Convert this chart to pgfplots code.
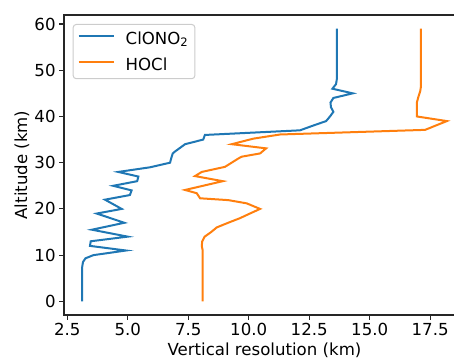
\documentclass[border=0pt]{standalone}
\usepackage{fontspec}
\setmainfont{DejaVu Sans}
\usepackage{pgfplots}
\pgfplotsset{compat=1.18}
\definecolor{tabblue}{HTML}{1F77B4}
\definecolor{taborange}{HTML}{FF7F0E}
\newcommand{\mplfont}{\fontsize{16.6bp}{20bp}\selectfont}
\begin{document}
\begin{tikzpicture}
\begin{axis}[
  scale only axis,
  width=401bp, height=300bp,
  xmin=2.366, xmax=18.94,
  ymin=-2.95, ymax=61.95,
  xtick={2.5,5,7.5,10,12.5,15,17.5},
  ytick={0,10,20,30,40,50,60},
  /pgf/number format/assume math mode=true,
  xticklabel style={/pgf/number format/.cd, fixed, fixed zerofill, precision=1},
  yticklabel style={/pgf/number format/.cd, fixed, precision=0},
  tick label style={font=\mplfont},
  tick align=outside, tick pos=left,
  major tick length=4.9bp,
  every tick/.style={black!85, line width=1.1bp},
  axis line style={black!85, line width=1.1bp},
  xlabel={Vertical resolution (km)},
  ylabel={Altitude (km)},
  label style={font=\mplfont},
  xlabel style={at={(axis description cs:0.5,-0.1167)}, anchor=center},
  ylabel style={at={(axis description cs:-0.1047,0.5)}, anchor=center},
  legend style={at={(axis description cs:0.0217,0.97)}, anchor=north west,
    draw=black!20, line width=1bp, rounded corners=3bp, fill=white,
    inner xsep=4.5bp, inner ysep=5bp, row sep=8bp, column sep=9bp,
    font=\mplfont, cells={anchor=west}},
  legend image code/.code={\draw[#1] (0bp,0.3em) -- (35bp,0.3em);},
]
\addplot[tabblue, line width=2bp] coordinates {
(3.12,0)(3.12,7.5)(3.15,8.5)(3.25,9.3)(3.58,10)(4.93,11)(3.44,12)(3.47,13)
(5.0,14)(3.52,15.5)(4.86,17)(3.72,19)(4.75,20)(4.06,22)(5.09,23)(5.16,24)
(4.40,25)(5.39,26)(5.44,27)(4.61,28)(5.92,29)(6.75,30)(6.80,31)(6.86,32)
(6.95,32.4)(7.37,34)(8.12,35)(8.19,36)(12.12,37)(12.65,38)(13.2,39)(13.36,40)
(13.50,41)(13.40,42)(13.38,43)(13.50,44)(14.30,45)(13.46,46)(13.61,47)
(13.64,48)(13.64,59)};
\addlegendentry{ClONO\textsubscript{2}}
\addplot[taborange, line width=2bp] coordinates {
(8.1,0)(8.1,11)(8.06,12)(8.08,13)(8.18,14)(8.45,15)(8.68,16)(9.15,17)
(9.64,18)(10.05,19)(10.47,20)(9.92,21.2)(9.16,21.9)(7.99,22.3)(7.85,23.4)
(7.37,24.1)(8.93,26)(7.78,27.1)(8.06,28)(9.02,29.1)(9.57,30.9)(9.71,31.3)
(10.47,32)(10.72,33.1)(9.30,34)(10.19,35.2)(11.3,36.1)(17.29,37.1)(18.19,39)
(16.95,40)(16.95,43)(17.0,44)(17.09,45.5)(17.12,46.5)(17.12,59)};
\addlegendentry{HOCl}
\coordinate (sw) at (rel axis cs:0,0);
\end{axis}
\pgfresetboundingbox
\path[use as bounding box] ([shift={(-64bp,-47bp)}]sw) rectangle ([shift={(390bp,315bp)}]sw);
\end{tikzpicture}
\end{document}
